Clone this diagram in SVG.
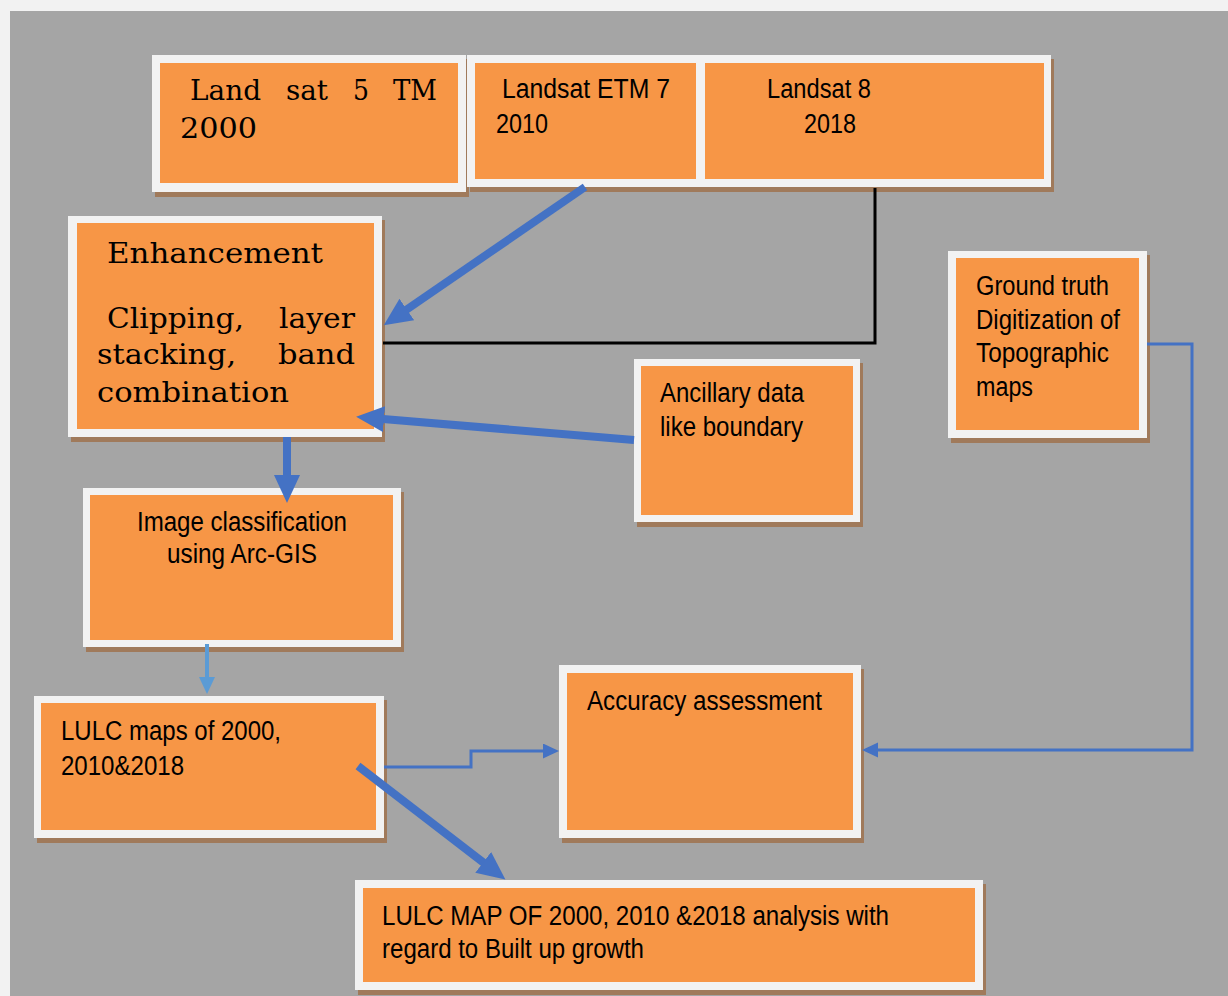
<svg xmlns="http://www.w3.org/2000/svg" width="1228" height="996" viewBox="0 0 1228 996">
<style>
.bd{fill:#f2f2f2}
.or{fill:#f79646}
.sh{fill:#a07a5b}
.sf{font-family:"DejaVu Serif","Liberation Serif",serif;font-size:27px;fill:#000}
.ss{font-family:"Liberation Sans Narrow","Liberation Sans",Arial,sans-serif;font-size:27px;fill:#000}
.thick{stroke:#4472c4;stroke-width:8;fill:none}
.thin{stroke:#4472c4;stroke-width:3;fill:none}
</style>
<defs>
<marker id="bigHead" markerUnits="userSpaceOnUse" markerWidth="30" markerHeight="28" refX="1" refY="13" orient="auto" viewBox="0 0 30 28">
<path d="M0,0 L28,13 L0,26 Z" fill="#4472c4"/>
</marker>
<marker id="smallHead" markerUnits="userSpaceOnUse" markerWidth="18" markerHeight="16" refX="1" refY="7.5" orient="auto" viewBox="0 0 18 16">
<path d="M0,0 L16,7.5 L0,15 Z" fill="#4472c4"/>
</marker>
<marker id="lightHead" markerUnits="userSpaceOnUse" markerWidth="18" markerHeight="18" refX="1" refY="8" orient="auto" viewBox="0 0 18 18">
<path d="M0,0 L17,8 L0,16 Z" fill="#5b9bd5"/>
</marker>
</defs>
<rect x="0" y="0" width="1228" height="996" fill="#f2f2f2"/>
<rect x="10" y="11" width="1218" height="985" fill="#a5a5a5"/>

<g id="n_landsat5">
<rect class="sh" x="155" y="59" width="314" height="138"/>
<rect class="bd" x="152" y="55" width="314" height="137"/>
<rect class="or" x="160" y="63" width="298" height="120"/>
<text class="sf" x="190" y="100" textLength="71" lengthAdjust="spacingAndGlyphs">Land</text>
<text class="sf" x="286" y="100" textLength="42" lengthAdjust="spacingAndGlyphs">sat</text>
<text class="sf" x="353" y="100" textLength="16" lengthAdjust="spacingAndGlyphs">5</text>
<text class="sf" x="393" y="100" textLength="44" lengthAdjust="spacingAndGlyphs">TM</text>
<text class="sf" x="180" y="138" textLength="77" lengthAdjust="spacingAndGlyphs">2000</text>
</g>

<g id="n_landsat8">
<rect class="sh" x="700" y="59" width="354" height="133"/>
<rect class="bd" x="697" y="55" width="354" height="132"/>
<rect class="or" x="705" y="63" width="339" height="116"/>
<text class="ss" x="767" y="98" textLength="104" lengthAdjust="spacingAndGlyphs">Landsat 8</text>
<text class="ss" x="804" y="133" textLength="52" lengthAdjust="spacingAndGlyphs">2018</text>
</g>

<g id="n_etm7">
<rect class="sh" x="470" y="59" width="234" height="133"/>
<rect class="bd" x="467" y="55" width="237" height="132"/>
<rect class="or" x="475" y="63" width="221" height="116"/>
<text class="ss" x="502" y="98" textLength="168" lengthAdjust="spacingAndGlyphs">Landsat  ETM 7</text>
<text class="ss" x="496" y="133" textLength="52" lengthAdjust="spacingAndGlyphs">2010</text>
</g>

<g id="n_enhancement">
<rect class="sh" x="71" y="220" width="314" height="222"/>
<rect class="bd" x="68" y="216" width="314" height="221"/>
<rect class="or" x="77" y="223" width="297" height="206"/>
<text class="sf" x="107" y="263" textLength="216" lengthAdjust="spacingAndGlyphs">Enhancement</text>
<text class="sf" x="107" y="328" textLength="137" lengthAdjust="spacingAndGlyphs">Clipping,</text>
<text class="sf" x="279" y="328" textLength="76" lengthAdjust="spacingAndGlyphs">layer</text>
<text class="sf" x="97" y="364" textLength="139" lengthAdjust="spacingAndGlyphs">stacking,</text>
<text class="sf" x="278" y="364" textLength="77" lengthAdjust="spacingAndGlyphs">band</text>
<text class="sf" x="97" y="402" textLength="192" lengthAdjust="spacingAndGlyphs">combination</text>
</g>

<g id="n_ancillary">
<rect class="sh" x="637" y="363" width="226" height="164"/>
<rect class="bd" x="634" y="359" width="226" height="163"/>
<rect class="or" x="641" y="366" width="212" height="149"/>
<text class="ss" x="660" y="402" textLength="144" lengthAdjust="spacingAndGlyphs">Ancillary data</text>
<text class="ss" x="660" y="436" textLength="143" lengthAdjust="spacingAndGlyphs">like boundary</text>
</g>

<g id="n_groundtruth">
<rect class="sh" x="951" y="255" width="199" height="188"/>
<rect class="bd" x="948" y="251" width="199" height="187"/>
<rect class="or" x="956" y="258" width="183" height="172"/>
<text class="ss" x="976" y="295" textLength="133" lengthAdjust="spacingAndGlyphs">Ground truth</text>
<text class="ss" x="976" y="329" textLength="144" lengthAdjust="spacingAndGlyphs">Digitization of</text>
<text class="ss" x="976" y="362" textLength="133" lengthAdjust="spacingAndGlyphs">Topographic</text>
<text class="ss" x="976" y="396" textLength="57" lengthAdjust="spacingAndGlyphs">maps</text>
</g>

<g id="n_classification">
<rect class="sh" x="86" y="492" width="318" height="160"/>
<rect class="bd" x="83" y="488" width="318" height="159"/>
<rect class="or" x="90" y="495" width="303" height="145"/>
<text class="ss" x="137" y="531" textLength="210" lengthAdjust="spacingAndGlyphs">Image classification</text>
<text class="ss" x="167" y="563" textLength="150" lengthAdjust="spacingAndGlyphs">using Arc-GIS</text>
</g>

<g id="n_lulcmaps">
<rect class="sh" x="37" y="700" width="350" height="143"/>
<rect class="bd" x="34" y="696" width="350" height="142"/>
<rect class="or" x="41" y="703" width="335" height="127"/>
<text class="ss" x="61" y="740" textLength="220" lengthAdjust="spacingAndGlyphs">LULC maps of 2000,</text>
<text class="ss" x="61" y="775" textLength="123" lengthAdjust="spacingAndGlyphs">2010&amp;2018</text>
</g>

<g id="n_accuracy">
<rect class="sh" x="562" y="669" width="302" height="174"/>
<rect class="bd" x="559" y="665" width="302" height="173"/>
<rect class="or" x="567" y="673" width="286" height="157"/>
<text class="ss" x="587" y="710" textLength="235" lengthAdjust="spacingAndGlyphs">Accuracy assessment</text>
</g>

<g id="n_lulcanalysis">
<rect class="sh" x="358" y="884" width="628" height="111"/>
<rect class="bd" x="355" y="880" width="628" height="110"/>
<rect class="or" x="363" y="888" width="612" height="94"/>
<text class="ss" x="382" y="925" textLength="507" lengthAdjust="spacingAndGlyphs">LULC MAP OF 2000, 2010 &amp;2018 analysis with</text>
<text class="ss" x="382" y="958" textLength="262" lengthAdjust="spacingAndGlyphs">regard to Built up growth</text>
</g>

<g id="connectors">
<line class="thick" x1="585" y1="187" x2="406" y2="310" marker-end="url(#bigHead)"/>
<polyline points="875,188 875,343 383,343" fill="none" stroke="#000" stroke-width="3"/>
<line class="thick" x1="634" y1="440" x2="383" y2="419" stroke-width="7" marker-end="url(#bigHead)"/>
<line class="thick" x1="287" y1="437" x2="287" y2="476" marker-end="url(#bigHead)"/>
<line x1="207" y1="644" x2="207" y2="678" stroke="#5b9bd5" stroke-width="4" marker-end="url(#lightHead)"/>
<polyline class="thin" points="384,767 471,767 471,751 544,751" marker-end="url(#smallHead)"/>
<line class="thick" x1="358" y1="766" x2="484" y2="863" marker-end="url(#bigHead)"/>
<polyline class="thin" points="1147,344 1192,344 1192,750 877,750" marker-end="url(#smallHead)"/>
</g>
</svg>
